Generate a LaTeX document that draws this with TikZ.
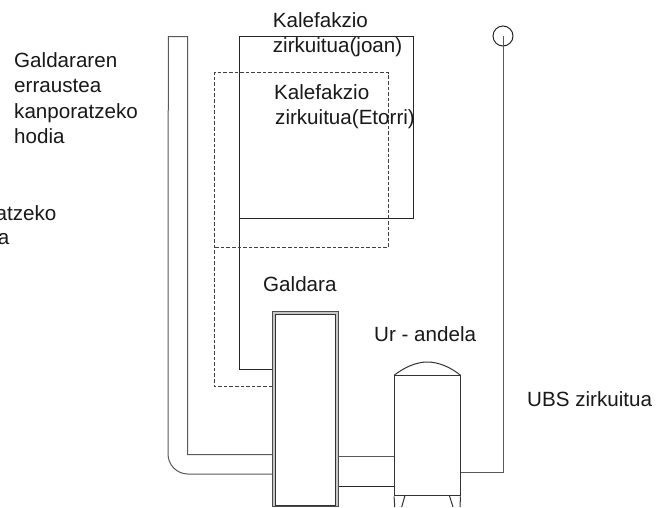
\documentclass[tikz,border=0pt]{standalone}
\usepackage{fontspec}
\setmainfont{Liberation Sans}
\tikzset{
  lbl/.style={inner sep=0pt,anchor=base west,font=\fontsize{20.6}{25}\selectfont,text=black!90},
  lblr/.style={lbl,anchor=base east},
  pipe/.style={draw=black!65,line width=1pt},
  heat/.style={draw=black!85,line width=1pt},
  heatd/.style={draw=black!75,line width=0.9pt,dash pattern=on 3.6pt off 2pt},
  outline/.style={draw=black!80,line width=1pt}
}
\begin{document}
\begin{tikzpicture}[x=1pt,y=-1pt]
\useasboundingbox (0,0) rectangle (671,507);
\fill[white] (0,0) rectangle (671,507);
% boiler
\node[draw=black!70,fill=black!22,line width=1pt,minimum width=65.6pt,minimum height=195pt,inner sep=0pt] (boiler) at (305.5,409.2) {};
\node[outline,fill=white,minimum width=59.6pt,minimum height=191.4pt,inner sep=0pt] (boilerin) at (305.7,410) {};
% tank
\node[outline,fill=white,minimum width=65.4pt,minimum height=120pt,inner sep=0pt,anchor=north] (tank) at (427.3,375.3) {};
\draw[outline] (tank.north west) .. controls (404,367.5) and (416,362) .. (427.3,362) .. controls (439,362) and (451,367.5) .. (tank.north east);
\draw[outline] (tank.south west) -- (394.7,507) (tank.south east) -- (460,507);
\draw[outline] (405,495.3) -- (401.7,507) (449.3,495.3) -- (453,507);
% flue pipe
\draw[pipe] (boiler.west |- 0,474) -- (188,474) arc[start angle=90,end angle=180,radius=20] -- (168.3,36.7) -- (187.7,36.7) -- (187.7,454.7) -- (boiler.west |- 0,454.7);
% heating loops
\draw[heat] (boiler.west |- 0,369.3) -- (239,369.3) -- (239,36.7) -- (413.3,36.7) -- (413.3,218.3) -- (239,218.3);
\draw[heatd] (boiler.west |- 0,386) -- (214,386) -- (214,72.7) -- (388.7,72.7) -- (388.7,247) -- (214,247);
% boiler-tank
\draw[pipe] (boiler.east |- 0,456.3) -- (tank.west |- 0,456.3);
\draw[heat] (boiler.east |- 0,486.3) -- (tank.west |- 0,486.3);
% DHW
\node[draw=black!85,line width=1pt,circle,minimum size=20pt,inner sep=0pt] (vent) at (503,36) {};
\draw[pipe] (tank.east |- 0,472) -- (503.3,472) -- (503.3,36);
% labels
\node[lbl] (a1) at (14,67) {Galdararen};
\node[lbl] (a2) at (14,92.7) {erraustea};
\node[lbl] (a3) at (14,118) {kanporatzeko};
\node[lbl] (a4) at (14,143.7) {hodia};
\node[lblr] (b1) at (56.5,220) {atzeko};
\node[lblr] (b2) at (9.5,244.5) {a};
\node[lbl] (c1) at (272.7,27) {Kalefakzio};
\node[lbl] (c2) at (272.7,52) {zirkuitua(joan)};
\node[lbl] (d1) at (274,99) {Kalefakzio};
\node[lbl] (d2) at (275,124.5) {zirkuitua(Etorri)};
\node[lbl] (e) at (263,291) {Galdara};
\node[lbl] (f) at (374,341.7) {Ur - andela};
\node[lbl] (g) at (527,406) {UBS zirkuitua};
\end{tikzpicture}
\end{document}
